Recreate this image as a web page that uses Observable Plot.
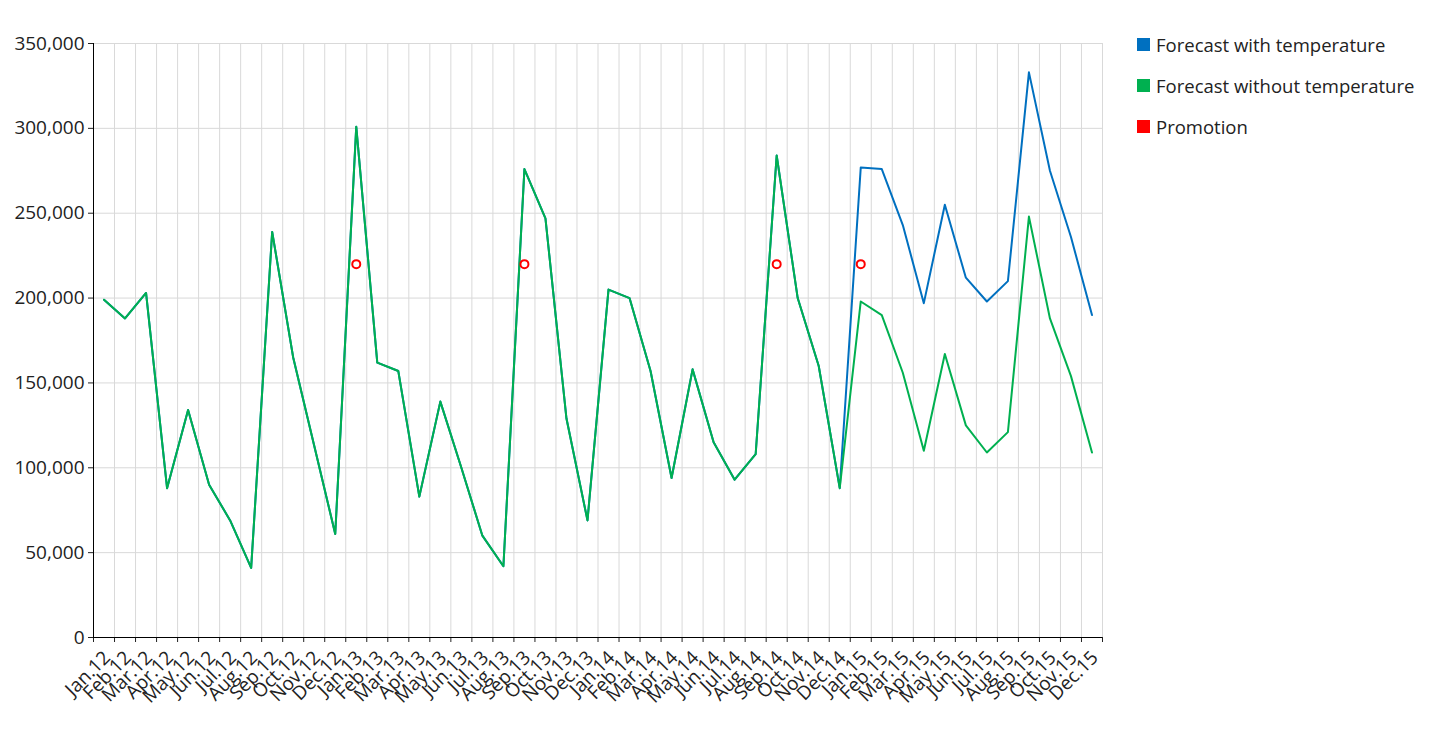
<!DOCTYPE html>
<html><head><meta charset="utf-8">
<script src="https://cdn.jsdelivr.net/npm/d3@7"></script>
<script src="https://cdn.jsdelivr.net/npm/@observablehq/plot@0.6"></script>
<style>
body{margin:0;font-family:"Open Sans",sans-serif;background:#fff}
#wrap{position:relative;width:1453px;height:736px}
#legend{position:absolute;left:1137px;top:24px}
.item{display:flex;align-items:center;height:41px;font-size:18.5px;color:#222;white-space:nowrap}
.sw{width:13px;height:13px;margin-right:6px}
</style></head><body>
<div id="wrap"><div id="chart"></div><div id="legend"></div></div>
<script>
const months = ["Jan.12","Feb.12","Mar.12","Apr.12","May.12","Jun.12","Jul.12","Aug.12","Sep.12","Oct.12","Nov.12","Dec.12",
"Jan.13","Feb.13","Mar.13","Apr.13","May.13","Jun.13","Jul.13","Aug.13","Sep.13","Oct.13","Nov.13","Dec.13",
"Jan.14","Feb.14","Mar.14","Apr.14","May.14","Jun.14","Jul.14","Aug.14","Sep.14","Oct.14","Nov.14","Dec.14",
"Jan.15","Feb.15","Mar.15","Apr.15","May.15","Jun.15","Jul.15","Aug.15","Sep.15","Oct.15","Nov.15","Dec.15"];
const withTemp = [199000,188000,203000,88000,134000,90000,69000,41000,239000,165000,113000,61000,
301000,162000,157000,83000,139000,100000,60000,42000,276000,247000,129000,69000,
205000,200000,157000,94000,158000,115000,93000,108000,284000,200000,160000,88000,
277000,276000,243000,197000,255000,212000,198000,210000,333000,275000,236000,190000];
const withoutTemp = [199000,188000,203000,88000,134000,90000,69000,41000,239000,165000,113000,61000,
301000,162000,157000,83000,139000,100000,60000,42000,276000,247000,129000,69000,
205000,200000,157000,94000,158000,115000,93000,108000,284000,200000,160000,88000,
198000,190000,156000,110000,167000,125000,109000,121000,248000,188000,154000,109000];
const promoMonths = ["Jan.13","Sep.13","Sep.14","Jan.15"];
const promoValues = [220000,220000,220000,220000];
const yTicks = [0,50000,100000,150000,200000,250000,300000,350000];
const seriesNames = ["Forecast with temperature","Forecast without temperature","Promotion"];
const seriesColors = ["#0070C0","#00B050","#FF0000"];

const idx = months.map((m,i)=>i);
const edges = months.map((m,i)=>i-0.5).concat([months.length-0.5]);
const blue = months.map((m,i)=>({i, v: withTemp[i]}));
const green = months.map((m,i)=>({i, v: withoutTemp[i]}));
const promo = promoMonths.map((m,k)=>({i: months.indexOf(m), v: promoValues[k]}));

const chart = Plot.plot({
  width: 1110, height: 736,
  marginLeft: 93, marginRight: 8, marginTop: 43, marginBottom: 99,
  style: {fontFamily: '"Open Sans", sans-serif', color: "#222"},
  x: {type: "linear", domain: [-0.5, months.length-0.5], axis: null},
  y: {domain: [0, 350000], axis: null},
  marks: [
    Plot.ruleY(yTicks, {stroke: "#d9d9d9", strokeWidth: 1}),
    Plot.ruleX(edges, {stroke: "#d9d9d9", strokeWidth: 1}),
    Plot.axisY(yTicks, {tickSize: 5, tickPadding: 4, tickFormat: d3.format(","), fontSize: 19, label: null}),
    Plot.axisX(edges, {tickSize: 5, tickFormat: () => "", anchor: "bottom", label: null}),
    Plot.axisX(idx, {tickSize: 0, tickPadding: 17, dx: 3, tickRotate: -45, tickFormat: i => months[i], fontSize: 19, anchor: "bottom", label: null}),
    Plot.ruleX([-0.5], {stroke: "#000"}),
    Plot.ruleY([0], {stroke: "#000"}),
    Plot.line(blue, {x: "i", y: "v", stroke: seriesColors[0], strokeWidth: 2}),
    Plot.line(green, {x: "i", y: "v", stroke: seriesColors[1], strokeWidth: 2}),
    Plot.dot(promo, {x: "i", y: "v", r: 4, stroke: seriesColors[2], fill: "#fff", strokeWidth: 2})
  ]
});
document.getElementById("chart").appendChild(chart);
const lg = document.getElementById("legend");
seriesNames.forEach((n,k)=>{
  const d = document.createElement("div"); d.className="item";
  d.innerHTML = `<span class="sw" style="background:${seriesColors[k]}"></span><span>${n}</span>`;
  lg.appendChild(d);
});
</script></body></html>
